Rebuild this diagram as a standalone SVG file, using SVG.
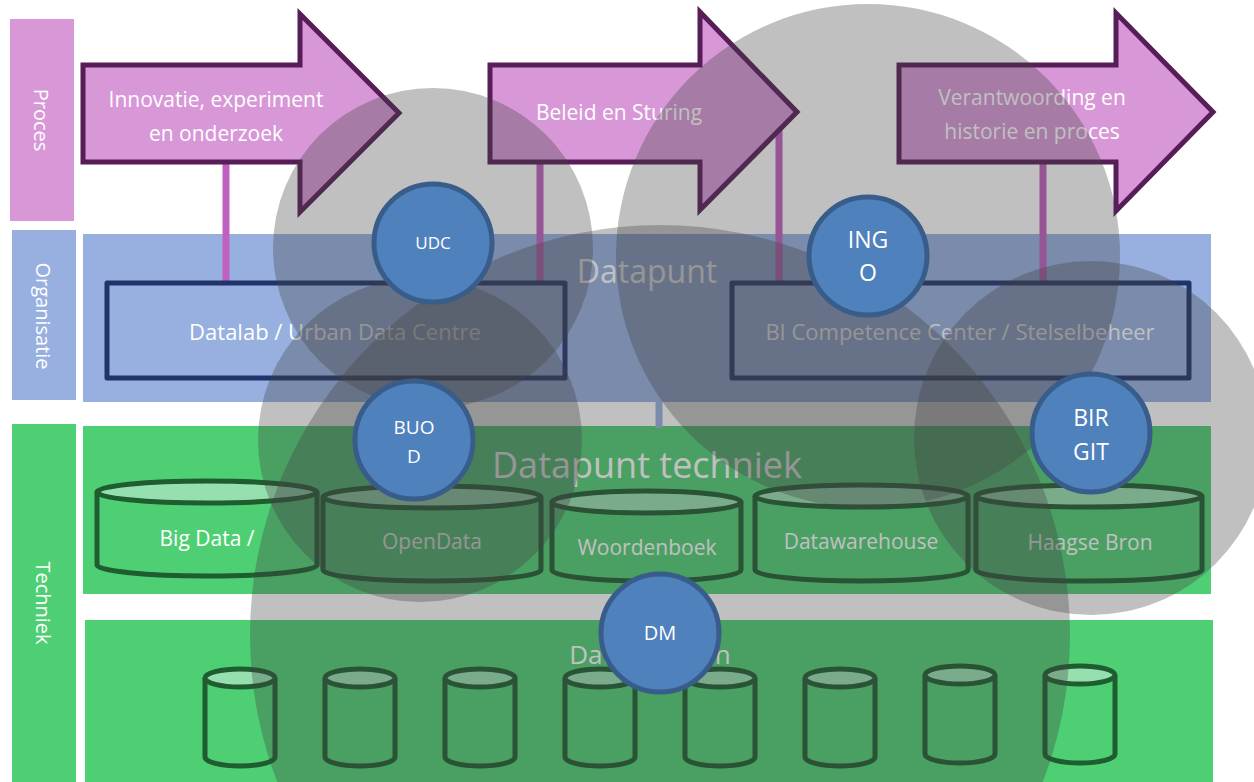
<svg xmlns="http://www.w3.org/2000/svg" width="1254" height="782" viewBox="0 0 1254 782">
<style>
.t{font-family:"Open Sans","Liberation Sans",sans-serif;fill:#fff;text-anchor:middle}
.pink{fill:#D898D8}
.blue{fill:#97B0E0}
.green{fill:#4ECF74}
.arrow{fill:#D898D8;stroke:#561D57;stroke-width:5;stroke-linejoin:miter}
.box{fill:none;stroke:#20336A;stroke-width:5;stroke-linejoin:round}
.conn{stroke:#C060C0;stroke-width:7}
.cyl{fill:#4ECF74;stroke:#1F5C30;stroke-width:5}
.cyltop{fill:#96E0B0;stroke:#1F5C30;stroke-width:5}
.halo{fill:#424242;fill-opacity:0.333}
.bc{fill:#4F81BD;stroke:#385D8A;stroke-width:5}
</style>
<rect width="1254" height="782" fill="#fff"/>
<g id="lane-labels">
<g id="label-proces"><rect class="pink" x="10" y="19" width="64" height="202"/><text class="t" font-size="20" transform="translate(34,120) rotate(90)">Proces</text></g>
<g id="label-organisatie"><rect class="blue" x="12" y="230" width="64" height="170"/><text class="t" font-size="20" transform="translate(36,316) rotate(90)">Organisatie</text></g>
<g id="label-techniek"><rect class="green" x="12" y="424" width="64" height="358"/><text class="t" font-size="20" transform="translate(36,603) rotate(90)">Techniek</text></g>
</g>
<g id="datapunt">
<rect class="blue" x="83" y="234" width="1128" height="168"/>
<text class="t" font-size="32" x="647" y="283">Datapunt</text>
</g>
<g id="datapunt-techniek">
<rect class="green" x="83" y="426" width="1128" height="168"/>
<text class="t" font-size="36" x="647" y="478">Datapunt techniek</text>
</g>
<g id="databronnen">
<rect class="green" x="85" y="620" width="1128" height="162"/>
<text class="t" font-size="26" x="650" y="664">Databronnen</text>
</g>
<g id="connectors">
<line class="conn" x1="226" y1="160" x2="226" y2="283"/>
<line class="conn" x1="540" y1="160" x2="540" y2="283"/>
<line class="conn" x1="779" y1="128" x2="779" y2="283"/>
<line class="conn" x1="1043" y1="160" x2="1043" y2="283"/>
<line x1="659" y1="400" x2="659" y2="428" stroke="#97B0E0" stroke-width="7"/>
</g>
<g id="arrow-innovatie">
<path class="arrow" d="M83,65 H300 V14 L399,113 L300,212 V162 H83 Z"/>
<text class="t" font-size="21" x="216" y="107">Innovatie, experiment</text>
<text class="t" font-size="21" x="216" y="141">en onderzoek</text>
</g>
<g id="arrow-beleid">
<path class="arrow" d="M490,65 H700 V12 L797,112 L700,210 V162 H490 Z"/>
<text class="t" font-size="21" x="619" y="120">Beleid en Sturing</text>
</g>
<g id="arrow-verantwoording">
<path class="arrow" d="M899,65 H1116 V13 L1213,112 L1116,211 V162 H899 Z"/>
<text class="t" font-size="21" x="1032" y="105">Verantwoording en</text>
<text class="t" font-size="21" x="1032" y="139">historie en proces</text>
</g>
<g id="datalab">
<rect class="box" x="107" y="283" width="458" height="95"/>
<text class="t" font-size="22" x="335" y="340">Datalab / Urban Data Centre</text>
</g>
<g id="bicc">
<rect class="box" x="732" y="283" width="457" height="95"/>
<text class="t" font-size="22" x="960" y="340">BI Competence Center / Stelselbeheer</text>
</g>
<g id="cyl-bigdata">
<path class="cyl" d="M97,492 V565 A110,11 0 0 0 317,565 V492"/>
<ellipse class="cyltop" cx="207" cy="492" rx="110" ry="11"/>
<text class="t" font-size="21" x="207" y="546">Big Data /</text>
</g>
<g id="cyl-opendata">
<path class="cyl" d="M323,497 V570 A109,11 0 0 0 541,570 V497"/>
<ellipse class="cyltop" cx="432" cy="497" rx="109" ry="11"/>
<text class="t" font-size="21" x="432" y="549">OpenData</text>
</g>
<g id="cyl-woordenboek">
<path class="cyl" d="M552,502 V570 A94.5,11 0 0 0 741,570 V502"/>
<ellipse class="cyltop" cx="646.5" cy="502" rx="94.5" ry="11"/>
<text class="t" font-size="21" x="647" y="555">Woordenboek</text>
</g>
<g id="cyl-datawarehouse">
<path class="cyl" d="M755,496 V570 A106.5,11 0 0 0 968,570 V496"/>
<ellipse class="cyltop" cx="861.5" cy="496" rx="106.5" ry="11"/>
<text class="t" font-size="21" x="861" y="549">Datawarehouse</text>
</g>
<g id="cyl-haagsebron">
<path class="cyl" d="M976,496 V570 A113,11 0 0 0 1202,570 V496"/>
<ellipse class="cyltop" cx="1089" cy="496" rx="113" ry="11"/>
<text class="t" font-size="21" x="1090" y="550">Haagse Bron</text>
</g>
<g id="bronnen">
<g id="bron-1"><path class="cyl" d="M205,678 V757 A35,9 0 0 0 275,757 V678"/><ellipse class="cyltop" cx="240" cy="678" rx="35" ry="9"/></g>
<g id="bron-2"><path class="cyl" d="M325,678 V757 A35,9 0 0 0 395,757 V678"/><ellipse class="cyltop" cx="360" cy="678" rx="35" ry="9"/></g>
<g id="bron-3"><path class="cyl" d="M445,678 V757 A35,9 0 0 0 515,757 V678"/><ellipse class="cyltop" cx="480" cy="678" rx="35" ry="9"/></g>
<g id="bron-4"><path class="cyl" d="M565,678 V757 A35,9 0 0 0 635,757 V678"/><ellipse class="cyltop" cx="600" cy="678" rx="35" ry="9"/></g>
<g id="bron-5"><path class="cyl" d="M685,678 V757 A35,9 0 0 0 755,757 V678"/><ellipse class="cyltop" cx="720" cy="678" rx="35" ry="9"/></g>
<g id="bron-6"><path class="cyl" d="M805,678 V757 A35,9 0 0 0 875,757 V678"/><ellipse class="cyltop" cx="840" cy="678" rx="35" ry="9"/></g>
<g id="bron-7"><path class="cyl" d="M925,675 V754 A35,9 0 0 0 995,754 V675"/><ellipse class="cyltop" cx="960" cy="675" rx="35" ry="9"/></g>
<g id="bron-8"><path class="cyl" d="M1045,675 V754 A35,9 0 0 0 1115,754 V675"/><ellipse class="cyltop" cx="1080" cy="675" rx="35" ry="9"/></g>
</g>
<g id="halos">
<circle class="halo" cx="433" cy="248" r="160"/>
<circle class="halo" cx="420" cy="440" r="162"/>
<circle class="halo" cx="660" cy="635" r="410"/>
<circle class="halo" cx="868" cy="256" r="252"/>
<circle class="halo" cx="1091" cy="438" r="177"/>
</g>
<g id="udc"><circle class="bc" cx="433" cy="243" r="59"/><text class="t" font-size="17" x="433" y="249">UDC</text></g>
<g id="buod"><circle class="bc" cx="414" cy="440" r="59"/><text class="t" font-size="19" x="414" y="434">BUO</text><text class="t" font-size="19" x="414" y="463">D</text></g>
<g id="ingo"><circle class="bc" cx="868" cy="256" r="59"/><text class="t" font-size="23" x="868" y="248">ING</text><text class="t" font-size="23" x="868" y="281">O</text></g>
<g id="birgit"><circle class="bc" cx="1091" cy="433" r="59"/><text class="t" font-size="23" x="1091" y="426">BIR</text><text class="t" font-size="23" x="1091" y="460">GIT</text></g>
<g id="dm"><circle class="bc" cx="660" cy="633" r="59"/><text class="t" font-size="20" x="660" y="640">DM</text></g>
</svg>
